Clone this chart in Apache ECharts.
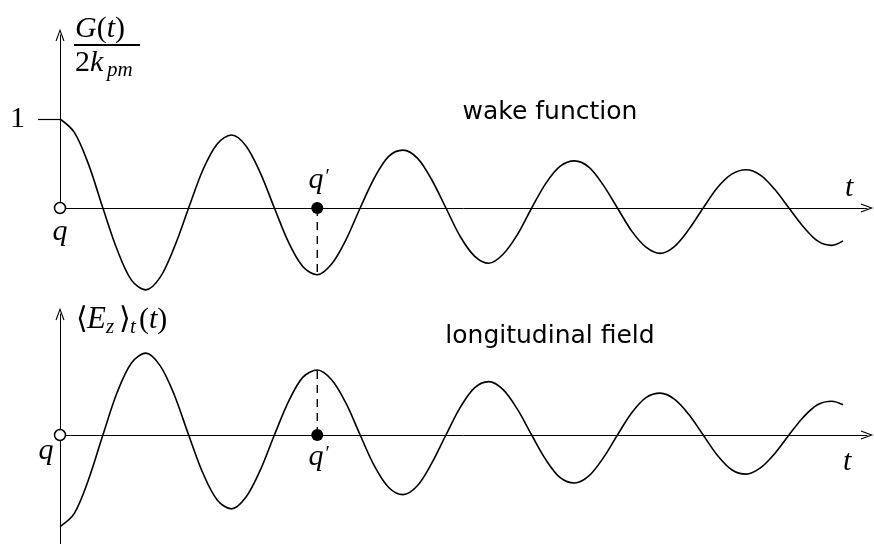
<!DOCTYPE html>
<html>
<head>
<meta charset="utf-8">
<script src="https://cdn.jsdelivr.net/npm/echarts@6/dist/echarts.min.js"></script>
<style>
  html, body { margin: 0; padding: 0; background: #fff; }
  #chart { width: 874px; height: 544px; }
</style>
</head>
<body>
<div id="chart"></div>
<script>
// Time samples, in units of half an oscillation period
const tSteps = [
  0, 0.167, 0.333, 0.5, 0.667, 0.833,
  1, 1.167, 1.333, 1.5, 1.667, 1.833,
  2, 2.167, 2.333, 2.5, 2.667, 2.833,
  3, 3.167, 3.333, 3.5, 3.667, 3.833,
  4, 4.167, 4.333, 4.5, 4.667, 4.833,
  5, 5.167, 5.333, 5.5, 5.667, 5.833,
  6, 6.167, 6.333, 6.5, 6.667, 6.833,
  7, 7.167, 7.333, 7.5, 7.667, 7.833,
  8, 8.167, 8.333, 8.5, 8.667, 8.833,
  9, 9.13
];

// Normalised wake function G(t) / 2k_pm
const wakeValues = [
  1.00, 0.85, 0.49, 0, -0.47, -0.81,
  -0.92, -0.78, -0.44, 0, 0.43, 0.72,
  0.82, 0.70, 0.40, 0, -0.39, -0.66,
  -0.75, -0.63, -0.36, 0, 0.34, 0.58,
  0.65, 0.56, 0.32, 0, -0.32, -0.54,
  -0.62, -0.52, -0.30, 0, 0.28, 0.47,
  0.53, 0.46, 0.26, 0, -0.26, -0.44,
  -0.51, -0.43, -0.24, 0, 0.23, 0.38,
  0.43, 0.37, 0.21, 0, -0.21, -0.37,
  -0.42, -0.37
];

// Time-averaged longitudinal field <E_z>_t(t)
const fieldValues = [
  -1.03, -0.88, -0.50, 0, 0.48, 0.81,
  0.92, 0.78, 0.45, 0, -0.43, -0.73,
  -0.83, -0.70, -0.40, 0, 0.38, 0.65,
  0.73, 0.62, 0.36, 0, -0.35, -0.59,
  -0.67, -0.57, -0.32, 0, 0.31, 0.53,
  0.60, 0.51, 0.29, 0, -0.28, -0.48,
  -0.54, -0.46, -0.26, 0, 0.25, 0.42,
  0.47, 0.40, 0.23, 0, -0.23, -0.39,
  -0.44, -0.37, -0.21, 0, 0.20, 0.34,
  0.38, 0.34
];

// Positions of the source charge q and the test charge q'
const sourceT = 0;
const testT = 3;
const testIndex = tSteps.indexOf(testT);

// Tick shown on the wake axis
const wakeTicks = [1];

const pair = (xs, ys) => xs.map((x, i) => [x, ys[i]]);

const SERIF = "'Liberation Serif', 'DejaVu Serif', serif";
const SANS = "'DejaVu Sans', sans-serif";
const INK = '#000';

// thin open arrowhead for the axes
const chevron = 'path://M10,0 L20,27 L17.6,28 L10,7 L2.4,28 L0,27 Z';

const mathRich = {
  i: { fontFamily: SERIF, fontStyle: 'italic', fontSize: 30, color: INK },
  r: { fontFamily: SERIF, fontSize: 30, color: INK },
  p: { fontFamily: SERIF, fontSize: 20, color: INK, padding: [0, 0, 5, 2] }
};

function axisPair(gridIndex, yMin, yMax, withTick) {
  const lineStyle = { color: INK, width: 1 };
  const x = {
    gridIndex, type: 'value', min: 0, max: 9.41,
    axisLine: { show: true, onZero: true, symbol: ['none', chevron], symbolSize: [9, 14], lineStyle },
    axisTick: { show: false }, axisLabel: { show: false }, splitLine: { show: false }
  };
  const y = {
    gridIndex, type: 'value', min: yMin, max: yMax,
    axisLine: { show: true, onZero: false, symbol: ['none', chevron], symbolSize: [9, 14], lineStyle },
    axisTick: withTick
      ? { show: true, customValues: wakeTicks, length: 22, lineStyle: { color: INK, width: 1.2 } }
      : { show: false },
    axisLabel: withTick
      ? { show: true, customValues: wakeTicks, margin: 35, fontFamily: SERIF, fontSize: 30, color: INK }
      : { show: false },
    splitLine: { show: false }
  };
  return [x, y];
}

const [x0, y0] = axisPair(0, 0, 173 / 89, true);
const [x1, y1] = axisPair(1, -109 / 89, 121 / 89, false);

function curve(idx, values) {
  return {
    type: 'line', xAxisIndex: idx, yAxisIndex: idx,
    data: pair(tSteps, values), smooth: 0.33, showSymbol: false, clip: false,
    lineStyle: { color: INK, width: 1.6 }, silent: true, z: 3
  };
}

function dropLine(idx, values) {
  return {
    type: 'line', xAxisIndex: idx, yAxisIndex: idx,
    data: [[testT, 0], [testT, values[testIndex]]], showSymbol: false, clip: false,
    lineStyle: { color: INK, width: 1.4, type: [8, 6] }, silent: true, z: 2
  };
}

function charges(idx, qOffset, qpOffset) {
  return {
    type: 'scatter', xAxisIndex: idx, yAxisIndex: idx, clip: false, z: 5, silent: true,
    data: [
      {
        value: [sourceT, 0], symbolSize: 11,
        itemStyle: { color: '#fff', borderColor: INK, borderWidth: 1.5, opacity: 1 },
        label: { show: true, position: 'inside', offset: qOffset, formatter: '{i|q}', rich: mathRich }
      },
      {
        value: [testT, 0], symbolSize: 12,
        itemStyle: { color: INK, opacity: 1 },
        label: { show: true, position: 'inside', offset: qpOffset, formatter: '{i|q}{p|′}', rich: mathRich }
      }
    ]
  };
}

// text placed by its baseline
function mathText(left, baseline, text, size, italic) {
  return {
    type: 'text', x: left, y: baseline - 0.32 * size, silent: true,
    style: {
      text, fill: INK,
      font: (italic ? 'italic ' : '') + size + 'px ' + SERIF,
      align: 'left', verticalAlign: 'middle',
      textAlign: 'left', textVerticalAlign: 'middle',
      rich: mathRich
    }
  };
}

const graphics = [
  // G(t) / 2k_pm
  mathText(75, 39, '{i|G}{r|(}{i|t}{r|)}', 30, false),
  { type: 'line', silent: true, shape: { x1: 74, y1: 45, x2: 140, y2: 45 }, style: { stroke: INK, lineWidth: 2 } },
  mathText(75, 73, '{r|2}{i|k}', 30, false),
  mathText(107, 77, 'pm', 21, true),
  // <E_z>_t(t)
  mathText(76, 330, '⟨', 30, false),
  mathText(87, 330, 'E', 31, true),
  mathText(106, 334, 'z', 21, true),
  mathText(119, 330, '⟩', 30, false),
  mathText(130, 334, 't', 21, true),
  mathText(139, 330, '{r|(}{i|t}{r|)}', 30, false),
  // time axis names
  mathText(845, 198, 't', 30, true),
  mathText(843, 472, 't', 30, true),
  // panel captions
  {
    type: 'text', x: 550, y: 112, silent: true,
    style: { text: 'wake function', fill: INK, font: '25px ' + SANS, align: 'center', verticalAlign: 'middle', textAlign: 'center', textVerticalAlign: 'middle' }
  },
  {
    type: 'text', x: 550, y: 336, silent: true,
    style: { text: 'longitudinal field', fill: INK, font: '25px ' + SANS, align: 'center', verticalAlign: 'middle', textAlign: 'center', textVerticalAlign: 'middle' }
  }
];

const chart = echarts.init(document.getElementById('chart'), null, { renderer: 'canvas' });
chart.setOption({
  animation: false,
  backgroundColor: '#fff',
  grid: [
    { left: 60, top: 35, width: 807, height: 173 },
    { left: 60, top: 314, width: 807, height: 230 }
  ],
  xAxis: [x0, x1],
  yAxis: [y0, y1],
  series: [
    curve(0, wakeValues),
    curve(1, fieldValues),
    dropLine(0, wakeValues),
    dropLine(1, fieldValues),
    charges(0, [0, 24], [2, -28]),
    charges(1, [-14, 16], [2, 22])
  ],
  graphic: graphics
});
</script>
</body>
</html>
